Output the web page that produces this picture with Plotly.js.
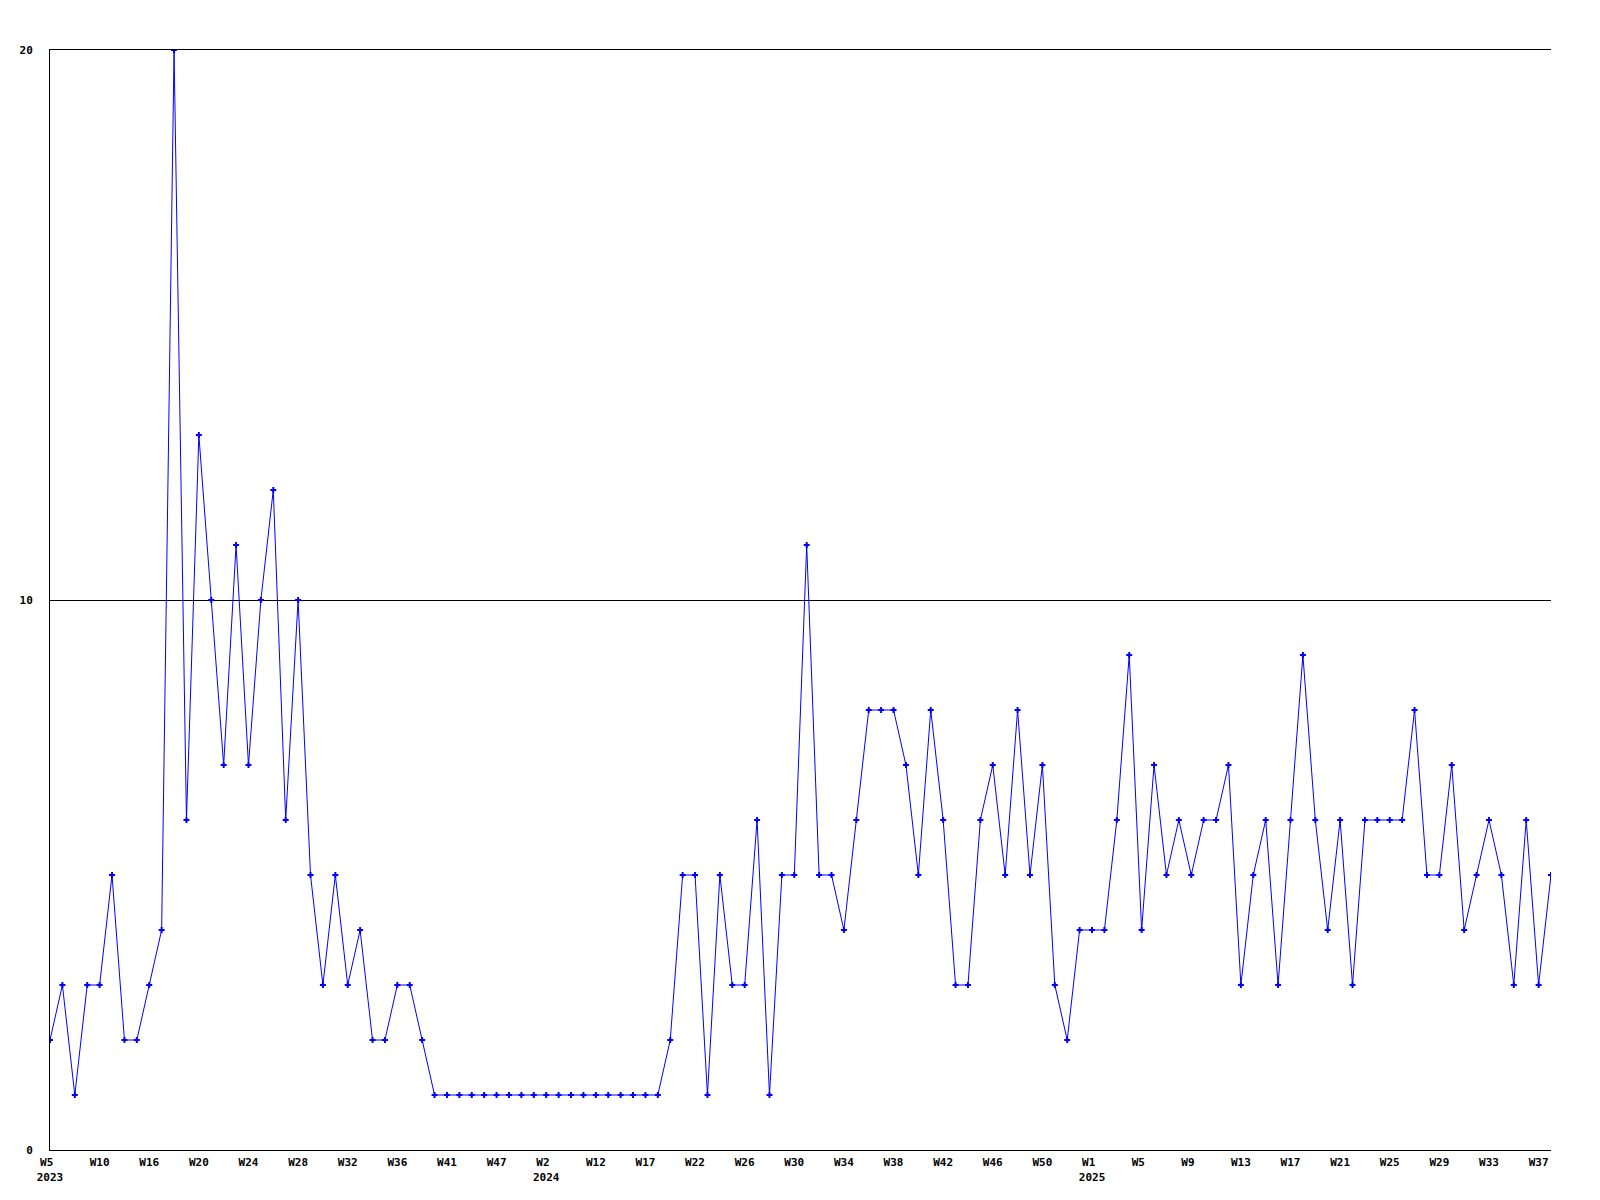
<!DOCTYPE html>
<html>
<head>
<meta charset="utf-8">
<script src="https://cdn.plot.ly/plotly-3.0.1.min.js"></script>
<style>
  html, body { margin: 0; padding: 0; background: #ffffff; }
  #chart { width: 1600px; height: 1200px; }
</style>
</head>
<body>
<div id="chart"></div>
<script>
// Weekly counts, one value per plotted week (2023 W5 .. 2025 W38)
const counts2023 = [2,3,1,3,3,5,2,2,3,4, 20,6,13,10,7,11,7,10,12,6,10, 5,3,5,3,4,2,2,3,3,2, 1,1,1,1,1,1,1,1,1];
const counts2024 = [1,1,1,1,1,1,1,1,1,1, 2,5,5,1,5,3,3,6,1,5,5,11,5,5,4,6, 8,8,8,7,5,8,6,3,3,6,7,5,8,5,7,3,2,4];
const counts2025 = [4,4,6,9,4,7,5,6,5,6,6,7,3,5,6,3,6,9,6,4,6,3, 6,6,6,6,8,5,5,7,4,5,6,5,3,6,3,5];

// Week tick labels shown every 4th week, and the year under the first week of each year
const weekLabels = [
  "W5","W10","W16","W20","W24","W28","W32","W36","W41","W47",
  "W2","W12","W17","W22","W26","W30","W34","W38","W42","W46","W50",
  "W1","W5","W9","W13","W17","W21","W25","W29","W33","W37"
];
const yearLabels = { 0: "2023", 10: "2024", 21: "2025" };
const tickStep = 4;
const yTicks = [0, 10, 20];

const values = counts2023.concat(counts2024, counts2025);
const xIdx = values.map((_, i) => i);
const tickVals = weekLabels.map((_, i) => i * tickStep);
const NBSP = "\u00a0";
const tickText = weekLabels.map((w, i) => {
  const week = w.padEnd(3, NBSP);
  return yearLabels[i] ? week + "<br>" + yearLabels[i] : week;
});

const font = { family: "DejaVu Sans Mono, Liberation Mono, monospace", size: 11, color: "#000000", weight: "bold" };

const trace = {
  x: xIdx,
  y: values,
  type: "scatter",
  mode: "lines+markers",
  line: { color: "#0000ff", width: 1 },
  marker: { color: "#0000ff", symbol: "cross", size: 5, line: { width: 0 } },
  hoverinfo: "skip"
};

const layout = {
  width: 1600,
  height: 1200,
  paper_bgcolor: "#ffffff",
  plot_bgcolor: "#ffffff",
  showlegend: false,
  margin: { l: 50, r: 49, t: 50, b: 50, pad: 0 },
  font: font,
  xaxis: {
    range: [0, values.length - 1],
    tickmode: "array",
    tickvals: tickVals,
    ticktext: tickText,
    showgrid: false,
    zeroline: false,
    showline: true,
    mirror: true,
    linecolor: "#000000",
    linewidth: 1,
    ticks: "",
    ticklabelstandoff: 2,
    tickfont: font,
    tickangle: 0,
    fixedrange: true
  },
  yaxis: {
    range: [0, 20],
    tickmode: "array",
    tickvals: yTicks,
    ticktext: yTicks.map(v => String(v).padStart(2, NBSP)),
    showgrid: true,
    gridcolor: "#000000",
    gridwidth: 1,
    zeroline: false,
    showline: true,
    linecolor: "#000000",
    linewidth: 1,
    ticks: "",
    ticklabelstandoff: 14,
    tickfont: font,
    fixedrange: true
  }
};

Plotly.newPlot("chart", [trace], layout, { displayModeBar: false, staticPlot: true });
</script>
</body>
</html>
